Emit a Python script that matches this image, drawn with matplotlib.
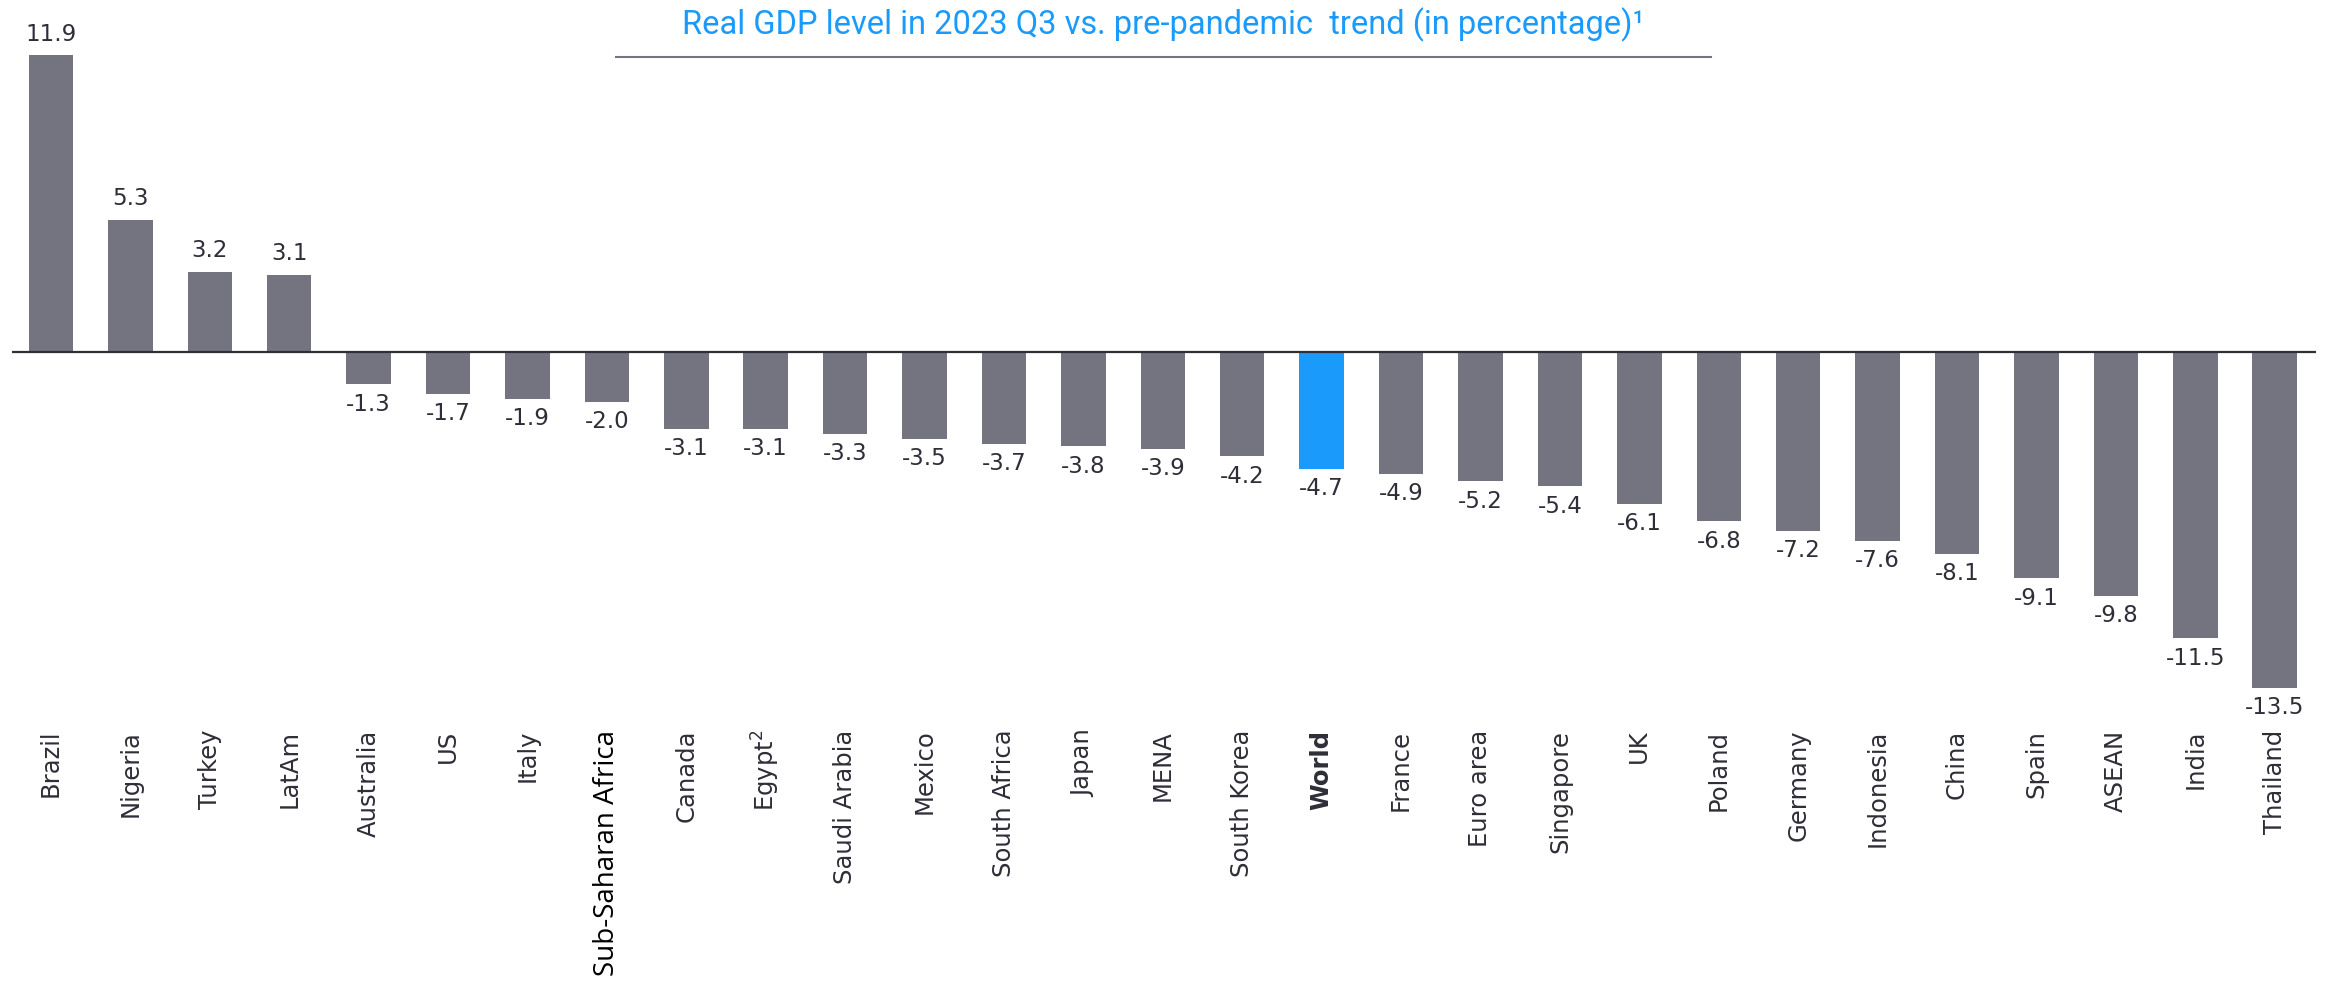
import numpy as np
import matplotlib.pyplot as plt
from matplotlib.lines import Line2D

countries = ['Brazil', 'Nigeria', 'Turkey', 'LatAm', 'Australia', 'US', 'Italy',
             'Sub-Saharan Africa', 'Canada', 'Egypt$^2$', 'Saudi Arabia', 'Mexico',
             'South Africa', 'Japan', 'MENA', 'South Korea', 'World', 'France',
             'Euro area', 'Singapore', 'UK', 'Poland', 'Germany', 'Indonesia',
             'China', 'Spain', 'ASEAN', 'India', 'Thailand']
values = [11.9, 5.3, 3.2, 3.1, -1.3, -1.7, -1.9, -2.0, -3.1, -3.1, -3.3, -3.5,
          -3.7, -3.8, -3.9, -4.2, -4.7, -4.9, -5.2, -5.4, -6.1, -6.8, -7.2, -7.6,
          -8.1, -9.1, -9.8, -11.5, -13.5]
highlight = 'World'

GRAY = '#747480'
BLUE = '#1a9afa'
TXT = '#2e2e38'

W, H = 2333, 989
fig = plt.figure(figsize=(W / 100, H / 100), dpi=100)
ax = fig.add_axes([12 / W, 1 - 713 / H, (2316 - 12) / W, (713 - 28) / H])

x = np.arange(len(countries))
cols = [BLUE if c == highlight else GRAY for c in countries]
ax.bar(x, values, width=0.56, color=cols, zorder=2)
ax.axhline(0, color=TXT, lw=1.6, zorder=3)

# value labels above / below each bar
for xi, v in zip(x, values):
    if v >= 0:
        ax.annotate(f'{v:.1f}', (xi, v), xytext=(0, 7), textcoords='offset points',
                    ha='center', va='bottom', fontsize=16.5, color=TXT)
    else:
        ax.annotate(f'{v:.1f}', (xi, v), xytext=(0, -6), textcoords='offset points',
                    ha='center', va='top', fontsize=16.5, color=TXT)

ax.set_xlim(-0.49, 28.52)
ax.set_ylim(-14.5, 13)
ax.set_yticks([])
ax.set_xticks(x)
ax.set_xticklabels(countries, rotation=90, fontsize=17.5, color=TXT)
ax.tick_params(axis='x', length=0, pad=12)
for lab in ax.get_xticklabels():
    t = lab.get_text()
    if t == 'World':
        lab.set_fontweight('bold')
    if t == 'Sub-Saharan Africa':
        lab.set_family('Open Sans')
        lab.set_fontsize(20)
        lab.set_color('black')
for s in ax.spines.values():
    s.set_visible(False)

fig.text(1163 / W, 1 - 25 / H, 'Real GDP level in 2023 Q3 vs. pre-pandemic  trend (in percentage)¹',
         ha='center', va='center', fontsize=23.5, color=BLUE, family='Roboto')
fig.add_artist(Line2D([616 / W, 1711 / W], [1 - 57 / H, 1 - 57 / H],
                      color=GRAY, lw=1.5, transform=fig.transFigure))

fig.savefig('out.png', dpi=100)
